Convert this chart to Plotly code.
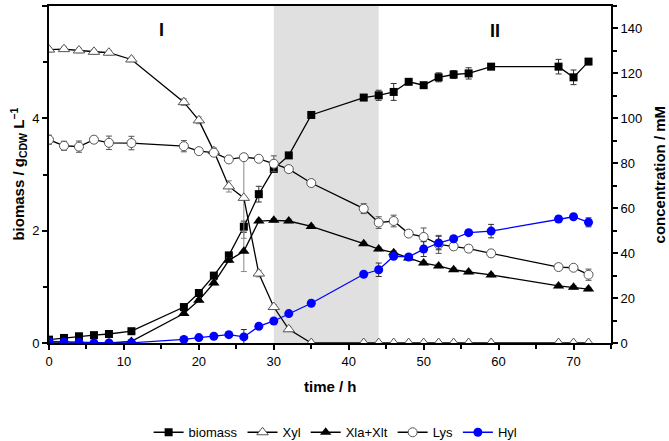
import plotly.graph_objects as go

# ---- data ----
time = [0, 2, 4, 6, 8, 11, 18, 20, 22, 24, 26, 28, 30, 32, 35, 42, 44, 46, 48, 50, 52, 54, 56, 59, 68, 70, 72]

biomass = [0.06, 0.09, 0.12, 0.14, 0.16, 0.21, 0.64, 0.89, 1.20, 1.56, 2.07, 2.65, 3.10, 3.34, 4.06,
           4.37, 4.41, 4.47, 4.65, 4.59, 4.73, 4.78, 4.80, 4.92, 4.92, 4.73, 5.01]
biomass_err = [0.02, 0.02, 0.02, 0.02, 0.02, 0.02, 0.04, 0.04, 0.04, 0.05, 0.10, 0.14, 0.05, 0.04, 0.04,
               0.04, 0.09, 0.15, 0.04, 0.04, 0.08, 0.07, 0.10, 0.04, 0.13, 0.13, 0.04]

xyl = [130.6, 130.8, 130.2, 129.6, 129.2, 126.2, 107.2, 99.1, 85.4, 69.7, 64.6, 30.9, 16.0, 6.1, 0,
       0, 0, 0, 0, 0, 0, 0, 0, 0, 0, 0, 0]
xyl_err = [1, 1, 1, 1, 1, 1, 1.5, 1.5, 1.5, 2.5, 18, 1.5, 1, 1, 0,
           0, 0, 0, 0, 0, 0, 0, 0, 0, 0, 0, 0]

xla_xlt = [0, 0, 0, 0, 0, 0.7, 13.1, 19.0, 26.7, 36.8, 40.8, 54.3, 54.6, 54.3, 51.9,
           44.2, 41.8, 40.2, 37.8, 35.6, 34.3, 32.6, 31.6, 30.3, 25.4, 24.8, 24.0]
xla_xlt_err = [0, 0, 0, 0, 0, 0.3, 0.8, 0.8, 0.8, 1.0, 9, 0.8, 0.8, 0.8, 0.8,
               0.8, 0.8, 0.8, 0.8, 0.8, 0.8, 0.8, 0.8, 0.8, 0.8, 0.8, 0.8]

lys = [90.5, 87.8, 87.4, 90.5, 89.1, 89.0, 87.6, 85.4, 84.7, 81.7, 82.7, 82.0, 79.8, 77.4, 71.2,
       59.8, 53.6, 54.3, 48.7, 47.2, 43.9, 43.0, 42.0, 39.9, 33.8, 33.5, 30.4]
lys_err = [2, 2, 2.5, 1.5, 3, 3, 2.5, 1, 1.5, 1, 1.5, 1, 3.5, 1.5, 1.5,
           2.2, 2.6, 2.6, 1.2, 4, 4, 1.5, 1.5, 1.5, 1.5, 1, 2.5]

hyl = [0.7, 0.5, 0.2, 0, 0, 0.1, 1.6, 2.4, 3.0, 3.7, 2.7, 7.4, 9.8, 13.1, 17.7,
       30.6, 32.6, 38.6, 38.3, 41.8, 44.5, 46.4, 49.1, 49.8, 55.2, 56.2, 53.7]
hyl_err = [0.3, 0.3, 0.3, 0.3, 0.3, 0.3, 0.5, 0.5, 0.5, 0.6, 3.3, 0.8, 0.8, 0.8, 0.8,
           1.0, 3.0, 1.0, 1.0, 3.3, 3.0, 1.0, 1.0, 3.0, 1.2, 1.0, 2.0]

phase_start, phase_end = 30, 44
x_range = [0, 75]
y1_range = [0, 6]
y2_range = [0, 150]

FONT = "Liberation Sans, Arial, sans-serif"
GRAY = "#555555"

fig = go.Figure()

fig.add_vrect(x0=phase_start, x1=phase_end, fillcolor="#e0e0e0", line_width=0, layer="below")

fig.add_trace(go.Scatter(
    x=time, y=biomass, name="biomass", mode="lines+markers", yaxis="y",
    line=dict(color="black", width=1.3),
    marker=dict(symbol="square", size=8, color="black"),
    error_y=dict(type="data", array=biomass_err, color="#333333", thickness=1, width=3),
))
fig.add_trace(go.Scatter(
    x=time, y=xyl, name="Xyl", mode="lines+markers", yaxis="y2",
    line=dict(color="black", width=1.3),
    marker=dict(symbol="triangle-up", size=10, color="white", line=dict(color=GRAY, width=1)),
    error_y=dict(type="data", array=xyl_err, color="#888888", thickness=1, width=3),
))
fig.add_trace(go.Scatter(
    x=time, y=xla_xlt, name="Xla+Xlt", mode="lines+markers", yaxis="y2",
    line=dict(color="black", width=1.3),
    marker=dict(symbol="triangle-up", size=10, color="black"),
    error_y=dict(type="data", array=xla_xlt_err, color="#888888", thickness=1, width=3),
))
fig.add_trace(go.Scatter(
    x=time, y=lys, name="Lys", mode="lines+markers", yaxis="y2",
    line=dict(color="black", width=1.3),
    marker=dict(symbol="circle", size=9, color="white", line=dict(color=GRAY, width=1)),
    error_y=dict(type="data", array=lys_err, color="#555555", thickness=1, width=3),
))
fig.add_trace(go.Scatter(
    x=time, y=hyl, name="Hyl", mode="lines+markers", yaxis="y2",
    line=dict(color="#0000ff", width=1.3),
    marker=dict(symbol="circle", size=9, color="#0000ff"),
    error_y=dict(type="data", array=hyl_err, color="#333333", thickness=1, width=3),
))

axis_common = dict(
    showgrid=False, zeroline=False, showline=True, linecolor="black", linewidth=2,
    ticks="outside", ticklen=5, tickwidth=1.5, tickcolor="black", automargin=False,
    tickfont=dict(family=FONT, size=13, color="black"),
)

fig.update_layout(
    width=669, height=441,
    margin=dict(l=49, r=58, t=6, b=98, autoexpand=False),
    plot_bgcolor="white", paper_bgcolor="white",
    font=dict(family=FONT, size=13, color="black"),
    xaxis=dict(range=x_range, dtick=10, mirror=True,
               minor=dict(dtick=5, ticks="outside", ticklen=4, tickcolor="black"),
               **axis_common),
    yaxis=dict(range=y1_range, dtick=2,
               minor=dict(dtick=1, ticks="outside", ticklen=4, tickcolor="black"),
               **axis_common),
    yaxis2=dict(range=y2_range, dtick=20, overlaying="y", side="right",
                minor=dict(dtick=10, ticks="outside", ticklen=4, tickcolor="black"),
                **axis_common),
    showlegend=True,
    legend=dict(orientation="h", x=0.51, xanchor="center", y=-0.265, yanchor="middle",
                font=dict(family=FONT, size=13), bgcolor="rgba(0,0,0,0)",
                itemwidth=30, tracegroupgap=0),
)

annotations = [
    dict(text="<b>time / h</b>", x=0.5, y=-0.128, xref="paper", yref="paper",
         xanchor="center", yanchor="middle", showarrow=False, font=dict(size=15)),
    dict(text="<b>biomass / g<sub>CDW</sub> L<sup>−1</sup></b>", x=-0.055, y=0.5,
         xref="paper", yref="paper", xanchor="center", yanchor="middle", textangle=-90,
         showarrow=False, font=dict(size=15)),
    dict(text="<b>concentration / mM</b>", x=1.087, y=0.5, xref="paper", yref="paper",
         xanchor="center", yanchor="middle", textangle=-90, showarrow=False, font=dict(size=15)),
    dict(text="<b>I</b>", x=15, y=0.965, xref="x", yref="paper", showarrow=False,
         font=dict(size=18)),
    dict(text="<b>II</b>", x=59.5, y=0.96, xref="x", yref="paper", showarrow=False,
         font=dict(size=18)),
]
fig.update_layout(annotations=annotations)

fig.write_html("out.html")
